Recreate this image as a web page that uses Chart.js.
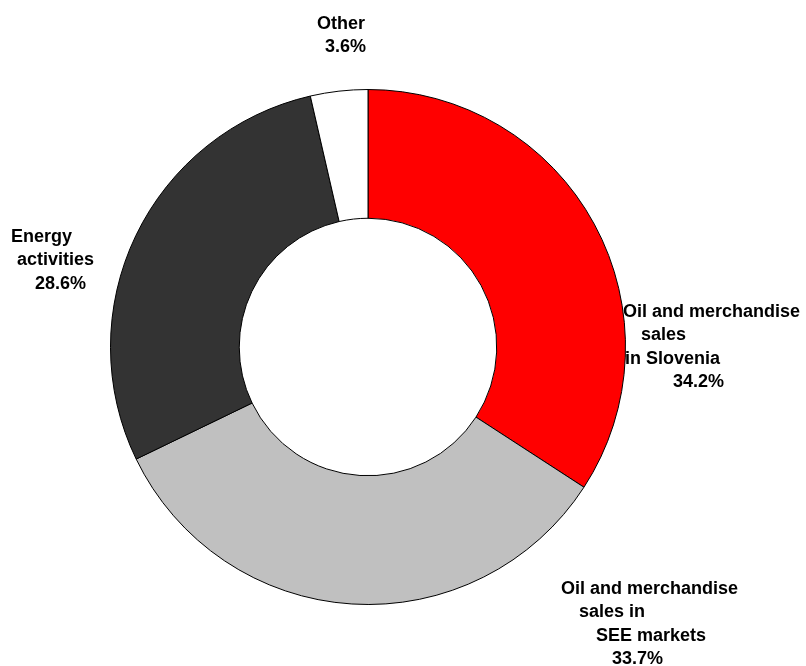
<!DOCTYPE html>
<html>
<head>
<meta charset="utf-8">
<script src="https://cdn.jsdelivr.net/npm/chart.js@4.4.0/dist/chart.umd.min.js"></script>
<style>
  html, body { margin: 0; padding: 0; background: #ffffff; }
  #wrap { width: 806px; height: 666px; }
</style>
</head>
<body>
<div id="wrap"><canvas id="revenue" width="806" height="666"></canvas></div>
<script>
// Segments in clockwise order starting at twelve o'clock
const segments = ['Oil and merchandise sales in Slovenia', 'Oil and merchandise sales in SEE markets', 'Energy activities', 'Other'];
const shares = [34.2, 33.7, 28.6, 3.6];
const colours = ['#ff0000', '#c0c0c0', '#333333', '#ffffff'];

// Label text, one entry per line; the last line of each is the share
const labelLines = [
  ['Oil and merchandise', 'sales', 'in Slovenia', '34.2%'],
  ['Oil and merchandise', 'sales in', 'SEE markets', '33.7%'],
  ['Energy', 'activities', '28.6%'],
  ['Other', '3.6%']
];

// where each label block sits, relative to the centre of the ring
const labelPlacement = [
  { dx: 255, dy: -35, indent: [0, 18, 2, 50] },
  { dx: 193, dy: 242, indent: [0, 18, 35, 51] },
  { dx: -357, dy: -110, indent: [0, 6, 24] },
  { dx: -51, dy: -323, indent: [0, 8] }
];

const outsideLabels = {
  id: 'outsideLabels',
  afterDatasetsDraw(chart) {
    const ctx = chart.ctx;
    const arc = chart.getDatasetMeta(0).data[0];
    ctx.save();
    ctx.font = 'bold 18px "Liberation Sans", Arial, sans-serif';
    ctx.fillStyle = '#000000';
    ctx.textAlign = 'left';
    ctx.textBaseline = 'middle';
    labelLines.forEach((lines, i) => {
      const p = labelPlacement[i];
      lines.forEach((line, j) => {
        ctx.fillText(line, arc.x + p.dx + p.indent[j], arc.y + p.dy + j * 23.5);
      });
    });
    ctx.restore();
  }
};

const config = {
  type: 'doughnut',
  data: {
    labels: segments,
    datasets: [{
      data: shares,
      backgroundColor: colours,
      borderColor: '#000000',
      borderWidth: 1
    }]
  },
  options: {
    responsive: false,
    animation: false,
    cutout: '50%',
    layout: {
      padding: { left: 110, right: 180, top: 88, bottom: 60 }
    },
    plugins: {
      legend: { display: false },
      tooltip: { enabled: false }
    }
  },
  plugins: [outsideLabels]
};

new Chart(document.getElementById('revenue'), config);
</script>
</body>
</html>
